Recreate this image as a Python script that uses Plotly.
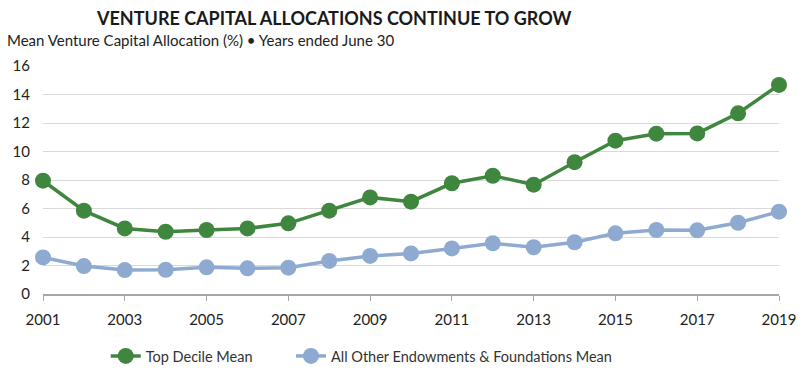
import plotly.graph_objects as go

years = list(range(2001, 2020))
top_decile = [7.95, 5.85, 4.6, 4.37, 4.49, 4.6, 4.96, 5.85, 6.78, 6.48,
              7.77, 8.3, 7.67, 9.25, 10.76, 11.25, 11.27, 12.68, 14.67]
all_other = [2.57, 1.96, 1.68, 1.7, 1.87, 1.8, 1.85, 2.32, 2.67, 2.85,
             3.2, 3.56, 3.28, 3.63, 4.26, 4.49, 4.47, 5.0, 5.78]
series_names = ["Top Decile Mean", "All Other Endowments & Foundations Mean"]
colors = ["#3f873f", "#8eaad1"]
y_ticks = [0, 2, 4, 6, 8, 10, 12, 14, 16]
x_ticks = list(range(2001, 2020, 2))

fig = go.Figure()
for name, vals, c, lg in zip(series_names, [top_decile, all_other], colors,
                             ["legend", "legend2"]):
    fig.add_trace(go.Scatter(
        x=years, y=vals, name=name, mode="lines+markers",
        line=dict(color=c, width=3.5),
        marker=dict(color=c, size=16),
        cliponaxis=False, legend=lg,
    ))

leg_common = dict(orientation="h", xanchor="left", yref="container",
                  y=1 - 356 / 370, yanchor="middle",
                  font=dict(size=14.5, color="#333333"), itemwidth=30,
                  bgcolor="rgba(0,0,0,0)")

fig.update_layout(
    width=808, height=370,
    margin=dict(l=43, r=26, t=66, b=76),
    paper_bgcolor="white", plot_bgcolor="white",
    font=dict(family="Lato, sans-serif", size=15, color="#222222"),
    showlegend=True,
    legend=dict(x=(106 - 43) / 739, **leg_common),
    legend2=dict(x=(292 - 43) / 739, **leg_common),
    xaxis=dict(range=[2001, 2019], tickvals=x_ticks, showgrid=False,
               showline=True, linecolor="#a6a6a6", linewidth=1.5,
               ticks="outside", ticklen=5, tickcolor="#a6a6a6",
               ticklabelstandoff=6,
               tickfont=dict(size=15, color="#222222"), zeroline=False),
    yaxis=dict(range=[0, 16], tickvals=y_ticks, showgrid=True,
               gridcolor="#d9d9d9", gridwidth=1, zeroline=False,
               showline=False, ticks="", ticklabelstandoff=12,
               tickfont=dict(size=15, color="#222222")),
)

fig.add_annotation(text="<b>VENTURE CAPITAL ALLOCATIONS CONTINUE TO GROW</b>",
                   xref="paper", yref="paper", x=(335 - 43) / 739, y=1 + (66 - 18) / 228,
                   xanchor="center", yanchor="middle", showarrow=False,
                   font=dict(size=18, color="#1a1a1a"))
fig.add_annotation(text="Mean Venture Capital Allocation (%) \u2022 Years ended June 30",
                   xref="paper", yref="paper", x=-38 / 739, y=1 + (66 - 40) / 228,
                   xanchor="left", yanchor="middle", showarrow=False,
                   font=dict(size=15, color="#222222"))

fig.write_html("out.html", config={"displayModeBar": False},
               post_script="document.body.style.margin='0';")
